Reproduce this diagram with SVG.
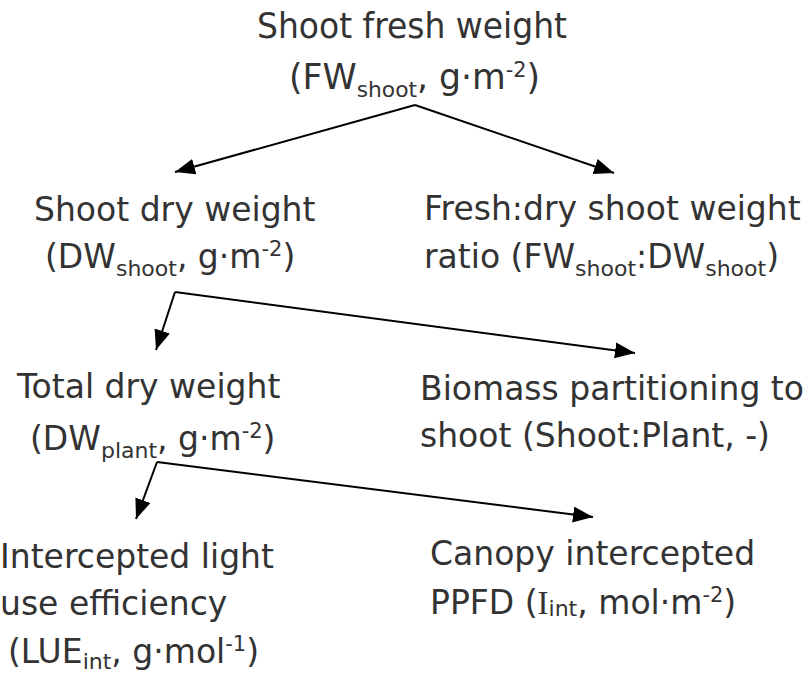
<svg xmlns="http://www.w3.org/2000/svg" width="810" height="681" viewBox="0 0 810 681">
<defs>
<style>
text{font-family:"DejaVu Sans",Verdana,sans-serif;font-size:33px;fill:#333}
.cond{font-family:"DejaVu Sans Condensed","DejaVu Sans",sans-serif;font-stretch:condensed;font-size:35px}
.sub{font-size:22px}
.sup{font-size:21px}
.ser{font-family:"Liberation Serif",serif}
.c{stroke:#000;stroke-width:2;fill:none;marker-end:url(#ah)}
</style>
<marker id="ah" markerUnits="userSpaceOnUse" markerWidth="22" markerHeight="18" refX="20" refY="8" orient="auto" viewBox="0 0 22 18">
<path d="M0,0 L20,8 L0,16 z" fill="#000"/>
</marker>
</defs>
<rect width="810" height="681" fill="#fff"/>
<g id="connectors">
<polyline class="c" points="415,105 175,172"/>
<polyline class="c" points="415,105 614,173"/>
<polyline class="c" points="175,292 156,350"/>
<polyline class="c" points="175,292 635,353"/>
<polyline class="c" points="157,462 136,519"/>
<polyline class="c" points="157,462 593,517"/>
</g>
<g id="n-fw">
<text class="cond" x="257" y="38" textLength="310" lengthAdjust="spacingAndGlyphs">Shoot fresh weight</text>
<text class="cond" x="289" y="89" textLength="251" lengthAdjust="spacingAndGlyphs">(FW<tspan class="sub" dy="8">shoot</tspan><tspan dy="-8">, g·m</tspan><tspan class="sup" dy="-12">-2</tspan><tspan dy="12">)</tspan></text>
</g>
<g id="n-dw">
<text x="34" y="221">Shoot dry weight</text>
<text x="45" y="268">(DW<tspan class="sub" dy="8">shoot</tspan><tspan dy="-8">, g·m</tspan><tspan class="sup" dy="-12">-2</tspan><tspan dy="12">)</tspan></text>
</g>
<g id="n-ratio">
<text x="424" y="220">Fresh:dry shoot weight</text>
<text x="424" y="268">ratio (FW<tspan class="sub" dy="8">shoot</tspan><tspan dy="-8">:DW</tspan><tspan class="sub" dy="8">shoot</tspan><tspan dy="-8">)</tspan></text>
</g>
<g id="n-total">
<text x="17" y="398">Total dry weight</text>
<text x="30" y="450">(DW<tspan class="sub" dy="8">plant</tspan><tspan dy="-8">, g·m</tspan><tspan class="sup" dy="-12">-2</tspan><tspan dy="12">)</tspan></text>
</g>
<g id="n-part">
<text x="420" y="400">Biomass partitioning to</text>
<text x="420" y="447">shoot (Shoot:Plant, -)</text>
</g>
<g id="n-lue">
<text x="0" y="568">Intercepted light</text>
<text x="0" y="615">use efficiency</text>
<text x="8" y="663">(LUE<tspan class="sub" dy="6">int</tspan><tspan dy="-6">, g·mol</tspan><tspan class="sup" dy="-12">-1</tspan><tspan dy="12">)</tspan></text>
</g>
<g id="n-ppfd">
<text x="430" y="565">Canopy intercepted</text>
<text x="430" y="614">PPFD (<tspan class="ser">I</tspan><tspan class="sub" dy="2">int</tspan><tspan dy="-2">, mol·m</tspan><tspan class="sup" dy="-12">-2</tspan><tspan dy="12">)</tspan></text>
</g>
</svg>
